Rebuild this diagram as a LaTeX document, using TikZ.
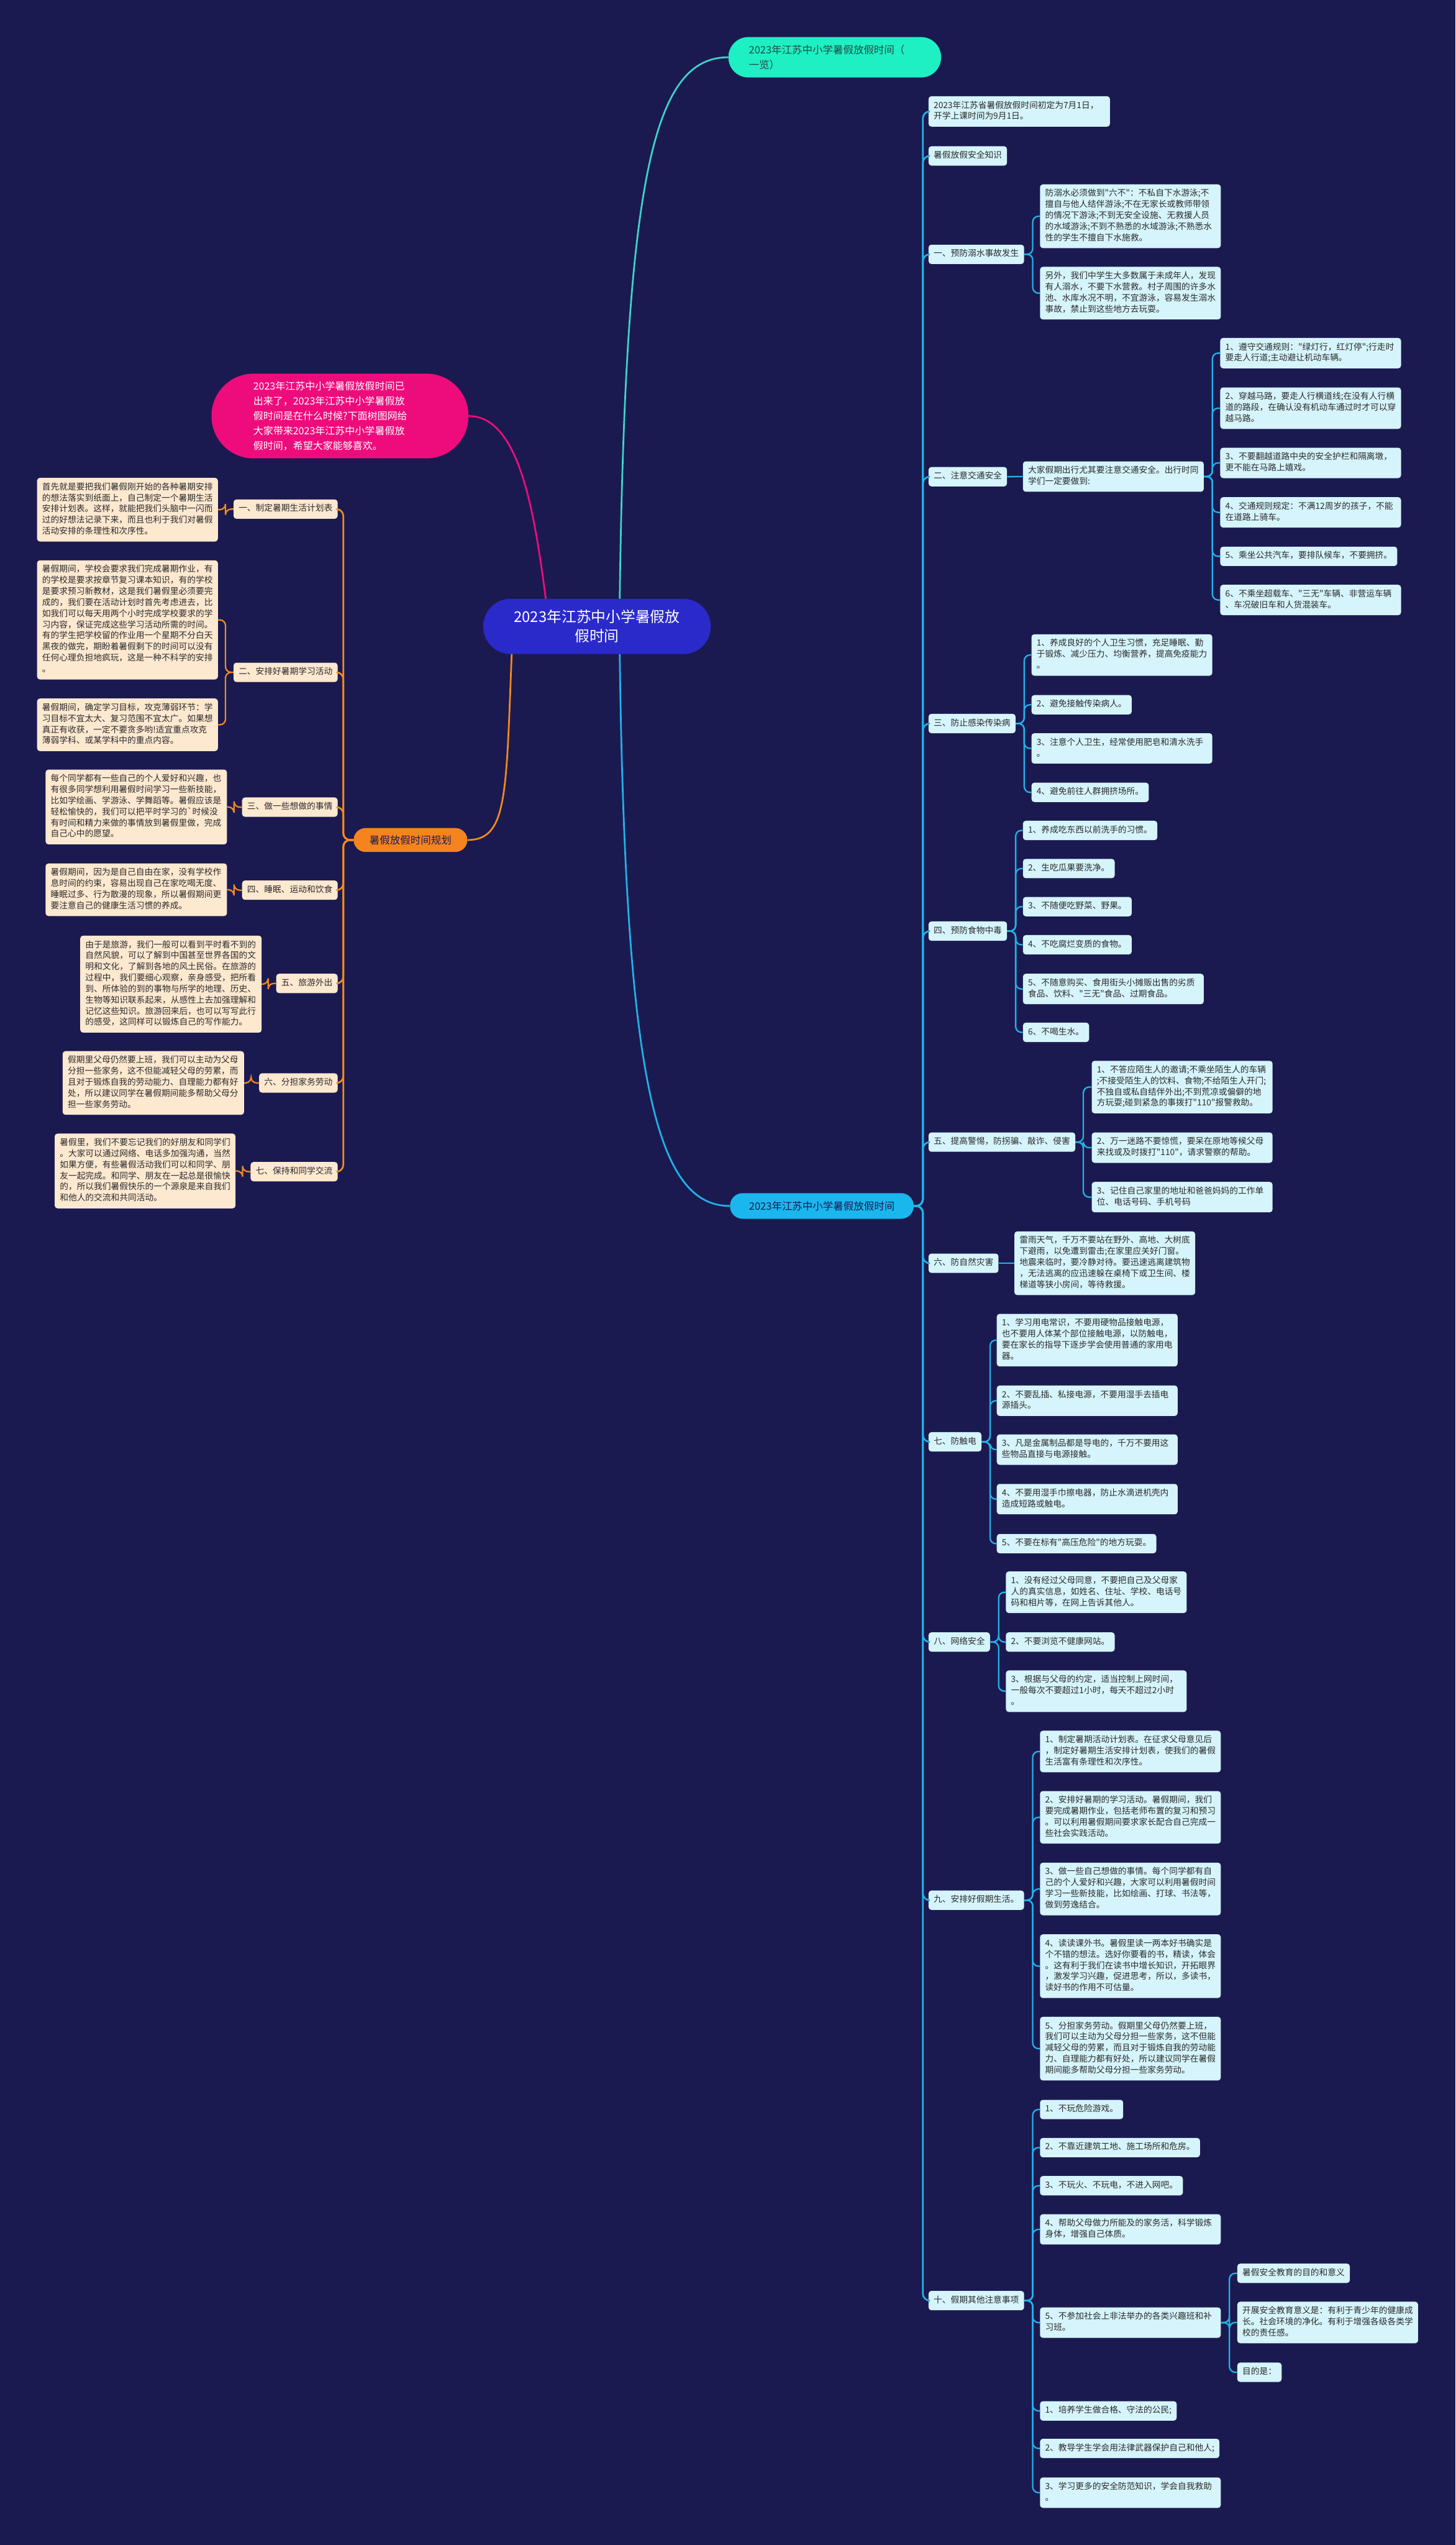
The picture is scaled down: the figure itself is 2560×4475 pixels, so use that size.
\documentclass[tikz,border=0pt]{standalone}
\usepackage{fontspec}
\newfontfamily\cjkf{Noto Sans CJK SC}
\definecolor{bgc}{HTML}{1B1A50}
\definecolor{leafc}{HTML}{D5F4FB}
\definecolor{peach}{HTML}{FDE8D0}
\definecolor{rcol}{HTML}{22B2E8}
\definecolor{ocol}{HTML}{F28A1E}
\definecolor{dtext}{HTML}{2B2B2B}
\definecolor{tealn}{HTML}{1EF0C4}
\definecolor{teall}{HTML}{3FD3C9}
\definecolor{tealt}{HTML}{224A44}
\definecolor{cyann}{HTML}{1AB7EE}
\definecolor{orangen}{HTML}{F5841F}
\definecolor{pinkn}{HTML}{EE0C7C}
\definecolor{rootn}{HTML}{2A2ACB}
\begin{document}
\cjkf
\begin{tikzpicture}[x=1pt,y=-1pt,
  box/.style={rounded corners=5pt, inner xsep=9pt, inner ysep=7.25pt, anchor=north west, align=left, text=dtext,
    font=\cjkf\fontsize{15}{19.5}\selectfont, execute at begin node=\strut, execute at end node=\strut},
  rleaf/.style={box, fill=leafc},
  lleaf/.style={box, fill=peach},
  lbranch/.style={box, fill=peach, anchor=north east},
  rline/.style={draw=rcol, line width=2.5pt, rounded corners=10pt},
  rmain/.style={draw=rcol, line width=3pt, rounded corners=12pt},
  oline/.style={draw=ocol, line width=2.5pt, rounded corners=10pt},
  omain/.style={draw=ocol, line width=3pt, rounded corners=12pt},
  rootst/.style={fill=rootn, text=white, rounded corners=48pt, minimum width=400pt, minimum height=97pt, align=center, inner sep=0pt, font=\cjkf\fontsize{26}{34}\selectfont},
  pinkst/.style={fill=pinkn, text=white, rounded corners=74pt, minimum height=149pt, text width=305pt, inner xsep=73.5pt, align=left, font=\cjkf\fontsize{17.5}{26}\selectfont},
  tealst/.style={fill=tealn, text=tealt, rounded corners=35pt, minimum height=71pt, text width=302pt, inner xsep=36pt, align=left, anchor=north west, font=\cjkf\fontsize{18}{26}\selectfont},
  cyanst/.style={fill=cyann, text=bgc, rounded corners=22pt, minimum width=323pt, minimum height=45pt, inner sep=0pt, font=\cjkf\fontsize{18}{24}\selectfont},
  orst/.style={fill=orangen, text=bgc, rounded corners=21pt, minimum width=200pt, minimum height=42pt, inner sep=0pt, font=\cjkf\fontsize{18}{24}\selectfont}
]
\fill[bgc] (0,0) rectangle (2560,4475);
\useasboundingbox (0,0) rectangle (2560,4475);

% ---------- main nodes ----------
\node[rootst] (root) at (1050,1101.5) {2023年江苏中小学暑假放\\假时间};
\node[pinkst] (intro) at (598,731.5) {2023年江苏中小学暑假放假时间已\\出来了，2023年江苏中小学暑假放\\假时间是在什么时候?下面树图网给\\大家带来2023年江苏中小学暑假放\\假时间，希望大家能够喜欢。};
\node[tealst] (top) at (1281,65) {2023年江苏中小学暑假放假时间（\\一览）};
\node[cyanst] (main2) at (1445.5,2120.5) {2023年江苏中小学暑假放假时间};
\node[orst] (plan) at (722,1477) {暑假放假时间规划};

% ---------- right side ----------
\node[rleaf,text width=301pt] (a0) at (1633,169) {2023年江苏省暑假放假时间初定为7月1日，\\开学上课时间为9月1日。};
\node[rleaf] (b0) at (1633,257) {暑假放假安全知识};

\node[rleaf] (r1) at (1633,430) {一、预防溺水事故发生};
\node[rleaf,text width=300pt] (d1) at (1829,324) {防溺水必须做到"六不"：不私自下水游泳;不\\擅自与他人结伴游泳;不在无家长或教师带领\\的情况下游泳;不到无安全设施、无救援人员\\的水域游泳;不到不熟悉的水域游泳;不熟悉水\\性的学生不擅自下水施救。};
\node[rleaf,text width=300pt] (d2) at (1829,469) {另外，我们中学生大多数属于未成年人，发现\\有人溺水，不要下水营救。村子周围的许多水\\池、水库水况不明，不宜游泳，容易发生溺水\\事故，禁止到这些地方去玩耍。};

\node[rleaf] (r2) at (1633,821) {二、注意交通安全};
\node[rleaf,text width=300pt] (ti) at (1799,811) {大家假期出行尤其要注意交通安全。出行时同\\学们一定要做到:};
\node[rleaf,text width=300pt] (t1) at (2146,594) {1、遵守交通规则："绿灯行，红灯停";行走时\\要走人行道;主动避让机动车辆。};
\node[rleaf,text width=300pt] (t2) at (2146,681) {2、穿越马路，要走人行横道线;在没有人行横\\道的路段，在确认没有机动车通过时才可以穿\\越马路。};
\node[rleaf,text width=300pt] (t3) at (2146,787) {3、不要翻越道路中央的安全护栏和隔离墩，\\更不能在马路上嬉戏。};
\node[rleaf,text width=300pt] (t4) at (2146,874) {4、交通规则规定：不满12周岁的孩子，不能\\在道路上骑车。};
\node[rleaf] (t5) at (2146,961) {5、乘坐公共汽车，要排队候车，不要拥挤。};
\node[rleaf,text width=300pt] (t6) at (2146,1028) {6、不乘坐超载车、"三无"车辆、非营运车辆\\、车况破旧车和人货混装车。};

\node[rleaf] (r3) at (1633,1255) {三、防止感染传染病};
\node[rleaf,text width=300pt] (i1) at (1814,1115) {1、养成良好的个人卫生习惯，充足睡眠、勤\\于锻炼、减少压力、均衡营养，提高免疫能力\\。};
\node[rleaf] (i2) at (1814,1222) {2、避免接触传染病人。};
\node[rleaf,text width=300pt] (i3) at (1814,1289) {3、注意个人卫生，经常使用肥皂和清水洗手\\。};
\node[rleaf] (i4) at (1814,1376) {4、避免前往人群拥挤场所。};

\node[rleaf] (r4) at (1633,1620) {四、预防食物中毒};
\node[rleaf] (f1) at (1799,1443) {1、养成吃东西以前洗手的习惯。};
\node[rleaf] (f2) at (1799,1510) {2、生吃瓜果要洗净。};
\node[rleaf] (f3) at (1799,1577) {3、不随便吃野菜、野果。};
\node[rleaf] (f4) at (1799,1644) {4、不吃腐烂变质的食物。};
\node[rleaf,text width=300pt] (f5) at (1799,1712) {5、不随意购买、食用街头小摊贩出售的劣质\\食品、饮料、"三无"食品、过期食品。};
\node[rleaf] (f6) at (1799,1798) {6、不喝生水。};

\node[rleaf] (r5) at (1633,1991) {五、提高警惕，防拐骗、敲诈、侵害};
\node[rleaf,text width=300pt] (s1) at (1920,1865) {1、不答应陌生人的邀请;不乘坐陌生人的车辆\\;不接受陌生人的饮料、食物;不给陌生人开门;\\不独自或私自结伴外出;不到荒凉或偏僻的地\\方玩耍;碰到紧急的事拨打"110"报警救助。};
\node[rleaf,text width=300pt] (s2) at (1920,1991) {2、万一迷路不要惊慌，要呆在原地等候父母\\来找或及时拨打"110"，请求警察的帮助。};
\node[rleaf,text width=300pt] (s3) at (1920,2078) {3、记住自己家里的地址和爸爸妈妈的工作单\\位、电话号码、手机号码};

\node[rleaf] (r6) at (1633,2204) {六、防自然灾害};
\node[rleaf,text width=300pt] (ds) at (1784,2165) {雷雨天气，千万不要站在野外、高地、大树底\\下避雨，以免遭到雷击;在家里应关好门窗。\\地震来临时，要冷静对待。要迅速逃离建筑物\\，无法逃离的应迅速躲在桌椅下或卫生间、楼\\梯道等狭小房间，等待救援。};

\node[rleaf] (r7) at (1633,2518) {七、防触电};
\node[rleaf,text width=300pt] (e1) at (1753,2310) {1、学习用电常识，不要用硬物品接触电源，\\也不要用人体某个部位接触电源，以防触电，\\要在家长的指导下逐步学会使用普通的家用电\\器。};
\node[rleaf,text width=300pt] (e2) at (1753,2436) {2、不要乱插、私接电源，不要用湿手去插电\\源插头。};
\node[rleaf,text width=300pt] (e3) at (1753,2522) {3、凡是金属制品都是导电的，千万不要用这\\些物品直接与电源接触。};
\node[rleaf,text width=300pt] (e4) at (1753,2609) {4、不要用湿手巾擦电器，防止水滴进机壳内\\造成短路或触电。};
\node[rleaf] (e5) at (1753,2697) {5、不要在标有"高压危险"的地方玩耍。};

\node[rleaf] (r8) at (1633,2870) {八、网络安全};
\node[rleaf,text width=300pt] (n1) at (1769,2763) {1、没有经过父母同意，不要把自己及父母家\\人的真实信息，如姓名、住址、学校、电话号\\码和相片等，在网上告诉其他人。};
\node[rleaf] (n2) at (1769,2870) {2、不要浏览不健康网站。};
\node[rleaf,text width=300pt] (n3) at (1769,2937) {3、根据与父母的约定，适当控制上网时间，\\一般每次不要超过1小时，每天不超过2小时\\。};

\node[rleaf] (r9) at (1633,3324) {九、安排好假期生活。};
\node[rleaf,text width=300pt] (l1) at (1829,3043) {1、制定暑期活动计划表。在征求父母意见后\\，制定好暑期生活安排计划表，使我们的暑假\\生活富有条理性和次序性。};
\node[rleaf,text width=300pt] (l2) at (1829,3149) {2、安排好暑期的学习活动。暑假期间，我们\\要完成暑期作业，包括老师布置的复习和预习\\。可以利用暑假期间要求家长配合自己完成一\\些社会实践活动。};
\node[rleaf,text width=300pt] (l3) at (1829,3275) {3、做一些自己想做的事情。每个同学都有自\\己的个人爱好和兴趣，大家可以利用暑假时间\\学习一些新技能，比如绘画、打球、书法等，\\做到劳逸结合。};
\node[rleaf,text width=300pt] (l4) at (1829,3401) {4、读读课外书。暑假里读一两本好书确实是\\个不错的想法。选好你要看的书，精读，体会\\。这有利于我们在读书中增长知识，开拓眼界\\，激发学习兴趣，促进思考，所以，多读书，\\读好书的作用不可估量。};
\node[rleaf,text width=300pt] (l5) at (1829,3546) {5、分担家务劳动。假期里父母仍然要上班，\\我们可以主动为父母分担一些家务，这不但能\\减轻父母的劳累，而且对于锻炼自我的劳动能\\力、自理能力都有好处，所以建议同学在暑假\\期间能多帮助父母分担一些家务劳动。};

\node[rleaf] (r10) at (1633,4028) {十、假期其他注意事项};
\node[rleaf] (o1) at (1829,3692) {1、不玩危险游戏。};
\node[rleaf] (o2) at (1829,3759) {2、不靠近建筑工地、施工场所和危房。};
\node[rleaf] (o3) at (1829,3826) {3、不玩火、不玩电，不进入网吧。};
\node[rleaf,text width=300pt] (o4) at (1829,3893) {4、帮助父母做力所能及的家务活，科学锻炼\\身体，增强自己体质。};
\node[rleaf,text width=300pt] (o5) at (1829,4057) {5、不参加社会上非法举办的各类兴趣班和补\\习班。};
\node[rleaf] (p1) at (2176,3980) {暑假安全教育的目的和意义};
\node[rleaf,text width=300pt] (p2) at (2176,4047) {开展安全教育意义是：有利于青少年的健康成\\长。社会环境的净化。有利于增强各级各类学\\校的责任感。};
\node[rleaf] (p3) at (2176,4154) {目的是：};
\node[rleaf] (o6) at (1829,4222) {1、培养学生做合格、守法的公民;};
\node[rleaf] (o7) at (1829,4288) {2、教导学生学会用法律武器保护自己和他人;};
\node[rleaf,text width=300pt] (o8) at (1829,4356) {3、学习更多的安全防范知识，学会自我救助\\。};

% ---------- left side ----------
\node[lbranch] (lp1) at (594,878) {一、制定暑期生活计划表};
\node[lleaf,text width=300pt] (ld1) at (65,840) {首先就是要把我们暑假刚开始的各种暑期安排\\的想法落实到纸面上，自己制定一个暑期生活\\安排计划表。这样，就能把我们头脑中一闪而\\过的好想法记录下来，而且也利于我们对暑假\\活动安排的条理性和次序性。};
\node[lbranch] (lp2) at (594,1165) {二、安排好暑期学习活动};
\node[lleaf,text width=300pt] (ld2a) at (65,985) {暑假期间，学校会要求我们完成暑期作业，有\\的学校是要求按章节复习课本知识，有的学校\\是要求预习新教材，这是我们暑假里必须要完\\成的，我们要在活动计划时首先考虑进去，比\\如我们可以每天用两个小时完成学校要求的学\\习内容，保证完成这些学习活动所需的时间。\\有的学生把学校留的作业用一个星期不分白天\\黑夜的做完，期盼着暑假剩下的时间可以没有\\任何心理负担地疯玩，这是一种不科学的安排\\。};
\node[lleaf,text width=300pt] (ld2b) at (65,1228) {暑假期间，确定学习目标，攻克薄弱环节：学\\习目标不宜太大、复习范围不宜太广。如果想\\真正有收获，一定不要贪多哟!适宜重点攻克\\薄弱学科、或某学科中的重点内容。};
\node[lbranch] (lp3) at (594,1402) {三、做一些想做的事情};
\node[lleaf,text width=301pt] (ld3) at (80,1353) {每个同学都有一些自己的个人爱好和兴趣，也\\有很多同学想利用暑假时间学习一些新技能，\\比如学绘画、学游泳、学舞蹈等。暑假应该是\\轻松愉快的，我们可以把平时学习的\symbol{96}时候没\\有时间和精力来做的事情放到暑假里做，完成\\自己心中的愿望。};
\node[lbranch] (lp4) at (594,1548) {四、睡眠、运动和饮食};
\node[lleaf,text width=301pt] (ld4) at (80,1518) {暑假期间，因为是自己自由在家，没有学校作\\息时间的约束，容易出现自己在家吃喝无度、\\睡眠过多、行为散漫的现象，所以暑假期间更\\要注意自己的健康生活习惯的养成。};
\node[lbranch] (lp5) at (594,1712) {五、旅游外出};
\node[lleaf,text width=301pt] (ld5) at (141,1645) {由于是旅游，我们一般可以看到平时看不到的\\自然风貌，可以了解到中国甚至世界各国的文\\明和文化，了解到各地的风土民俗。在旅游的\\过程中，我们要细心观察，亲身感受，把所看\\到、所体验的到的事物与所学的地理、历史、\\生物等知识联系起来，从感性上去加强理解和\\记忆这些知识。旅游回来后，也可以写写此行\\的感受，这同样可以锻炼自己的写作能力。};
\node[lbranch] (lp6) at (594,1887) {六、分担家务劳动};
\node[lleaf,text width=301pt] (ld6) at (110,1848) {假期里父母仍然要上班，我们可以主动为父母\\分担一些家务，这不但能减轻父母的劳累，而\\且对于锻炼自我的劳动能力、自理能力都有好\\处，所以建议同学在暑假期间能多帮助父母分\\担一些家务劳动。};
\node[lbranch] (lp7) at (594,2043) {七、保持和同学交流};
\node[lleaf,text width=300pt] (ld7) at (96,1993) {暑假里，我们不要忘记我们的好朋友和同学们\\。大家可以通过网络、电话多加强沟通，当然\\如果方便，有些暑假活动我们可以和同学、朋\\友一起完成。和同学、朋友在一起总是很愉快\\的，所以我们暑假快乐的一个源泉是来自我们\\和他人的交流和共同活动。};

% ---------- connectors ----------
\draw[teall, line width=3pt] ([xshift=40pt]root.north) .. controls +(10,-750) and +(-130,0) .. (top.west);
\draw[rcol, line width=3pt] ([xshift=40pt]root.south) .. controls +(10,750) and +(-130,0) .. (main2.west);
\draw[ocol, line width=3pt] ([xshift=-150pt]root.south) .. controls +(-10,250) and +(70,0) .. (plan.east);
\draw[pinkn, line width=3pt] (intro.east) .. controls +(90,0) and +(-20,-150) .. ([xshift=-90pt]root.north);

\foreach \c in {a0,b0,r1,r2,r3,r4,r5,r6,r7,r8,r9,r10}
  \draw[rmain] (main2.east) -- ++(16,0) |- (\c.west);
\foreach \c in {d1,d2} \draw[rline] (r1.east) -- ++(15,0) |- (\c.west);
\draw[rline] (r2.east) -- (ti.west);
\foreach \c in {t1,t2,t3,t4,t5,t6} \draw[rline] (ti.east) -- ++(15,0) |- (\c.west);
\foreach \c in {i1,i2,i3,i4} \draw[rline] (r3.east) -- ++(15,0) |- (\c.west);
\foreach \c in {f1,f2,f3,f4,f5,f6} \draw[rline] (r4.east) -- ++(15,0) |- (\c.west);
\foreach \c in {s1,s2,s3} \draw[rline] (r5.east) -- ++(14,0) |- (\c.west);
\draw[rline] (r6.east) -- (ds.west);
\foreach \c in {e1,e2,e3,e4,e5} \draw[rline] (r7.east) -- ++(15,0) |- (\c.west);
\foreach \c in {n1,n2,n3} \draw[rline] (r8.east) -- ++(15,0) |- (\c.west);
\foreach \c in {l1,l2,l3,l4,l5} \draw[rline] (r9.east) -- ++(15,0) |- (\c.west);
\foreach \c in {o1,o2,o3,o4,o5,o6,o7,o8} \draw[rline] (r10.east) -- ++(15,0) |- (\c.west);
\foreach \c in {p1,p2,p3} \draw[rline] (o5.east) -- ++(15,0) |- (\c.west);

\foreach \c in {lp1,lp2,lp3,lp4,lp5,lp6,lp7}
  \draw[omain] (plan.west) -- ++(-18,0) |- (\c.east);
\draw[oline] (lp1.west) -- ++(-14,0) |- (ld1.east);
\foreach \c in {ld2a,ld2b} \draw[oline] (lp2.west) -- ++(-14,0) |- (\c.east);
\draw[oline] (lp3.west) -- ++(-14,0) |- (ld3.east);
\draw[oline] (lp4.west) -- ++(-14,0) |- (ld4.east);
\draw[oline] (lp5.west) -- ++(-14,0) |- (ld5.east);
\draw[oline] (lp6.west) -- ++(-14,0) |- (ld6.east);
\draw[oline] (lp7.west) -- ++(-14,0) |- (ld7.east);
\end{tikzpicture}
\end{document}
